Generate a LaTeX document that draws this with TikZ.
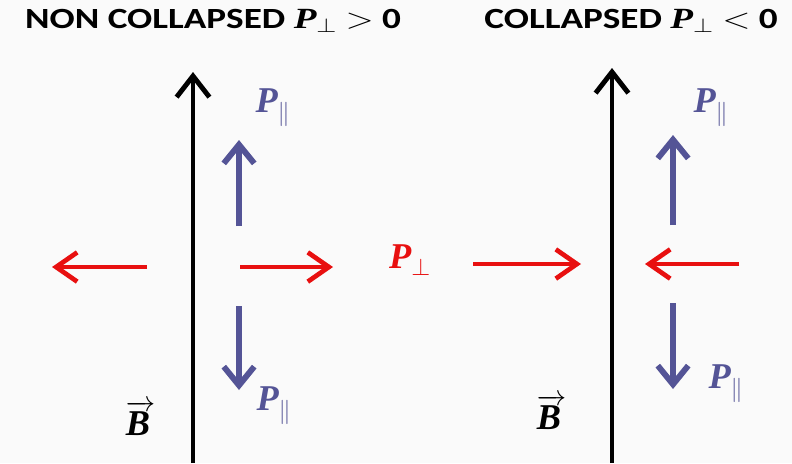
\documentclass[tikz,border=0pt]{standalone}
\usepackage{amsmath}
\usepackage{fontspec}
\setmainfont{Carlito}
\newfontfamily\symfont{Liberation Serif}
\usepackage{tikz}
\usetikzlibrary{arrows.meta,positioning}
\definecolor{parblue}{RGB}{84,84,150}
\definecolor{perpred}{RGB}{232,16,16}
\newcommand{\Pb}{{\symfont\bfseries\itshape P}}
\newcommand{\Bb}{{\symfont\bfseries\itshape B}}

\begin{document}
\begin{tikzpicture}[x=0.03cm, y=-0.03cm,
        title/.style={font=\fontsize{25}{29}\selectfont\bfseries, inner sep=0pt},
        lbl/.style={font=\fontsize{31}{35}\selectfont, inner sep=0pt},
        field/.style={line width=4.2pt, black, -{Straight Barb[length=18pt, width=28pt]}},
        par/.style={line width=5pt, parblue, -{Straight Barb[length=16pt, width=26pt]}},
        perp/.style={line width=4pt, perpred, -{Straight Barb[length=18pt, width=25pt]}}]

        \useasboundingbox[fill=black!2] (0,0) rectangle (792,463);

        % Titles
        \node[title, anchor=west] (titleL) at (25,21) {\scalebox{1.27}[1]{NON COLLAPSED \Pb$_{\perp}$ $>$ 0}};
        \node[title, anchor=east] (titleR) at (778,21) {\scalebox{1.27}[1]{COLLAPSED \Pb$_{\perp}$ $<$ 0}};

        % Magnetic field lines
        \coordinate (fieldLbot) at (193,463);
        \coordinate (fieldLtop) at (193,72);
        \coordinate (fieldRbot) at (612,463);
        \coordinate (fieldRtop) at (612,68);
        \draw[field] (fieldLbot) -- (fieldLtop);
        \draw[field] (fieldRbot) -- (fieldRtop);
        \node[lbl] (BL) at (141,418) {$\overrightarrow{\mbox{\Bb\,}}$};
        \node[lbl] (BR) at (552,412) {$\overrightarrow{\mbox{\Bb\,}}$};

        % Parallel pressure (left)
        \coordinate (upLa) at (239,226);
        \coordinate (upLb) at (239,140);
        \coordinate (dnLa) at (239,306);
        \coordinate (dnLb) at (239,390);
        \draw[par] (upLa) -- (upLb);
        \draw[par] (dnLa) -- (dnLb);
        \node[lbl, parblue] (parLtop) at (273,108) {\Pb$_{\|}$};
        \node[lbl, parblue] (parLbot) at (274,406) {\Pb$_{\|}$};

        % Parallel pressure (right)
        \coordinate (upRa) at (673,225);
        \coordinate (upRb) at (673,135);
        \coordinate (dnRa) at (673,303);
        \coordinate (dnRb) at (673,389);
        \draw[par] (upRa) -- (upRb);
        \draw[par] (dnRa) -- (dnRb);
        \node[lbl, parblue] (parRtop) at (711,108) {\Pb$_{\|}$};
        \node[lbl, parblue] (parRbot) at (726,384) {\Pb$_{\|}$};

        % Perpendicular pressure
        \coordinate (outLa) at (147,267);
        \coordinate (outLb) at (52,267);
        \coordinate (outRa) at (240,267);
        \coordinate (outRb) at (333,267);
        \coordinate (inLa) at (473,264);
        \coordinate (inLb) at (581,264);
        \coordinate (inRa) at (739,264);
        \coordinate (inRb) at (645,264);
        \draw[perp] (outLa) -- (outLb);
        \draw[perp] (outRa) -- (outRb);
        \draw[perp] (inLa) -- (inLb);
        \draw[perp] (inRa) -- (inRb);
        \node[lbl, perpred] (perpmid) at (410,260) {\Pb$_{\perp}$};
\end{tikzpicture}
\end{document}
